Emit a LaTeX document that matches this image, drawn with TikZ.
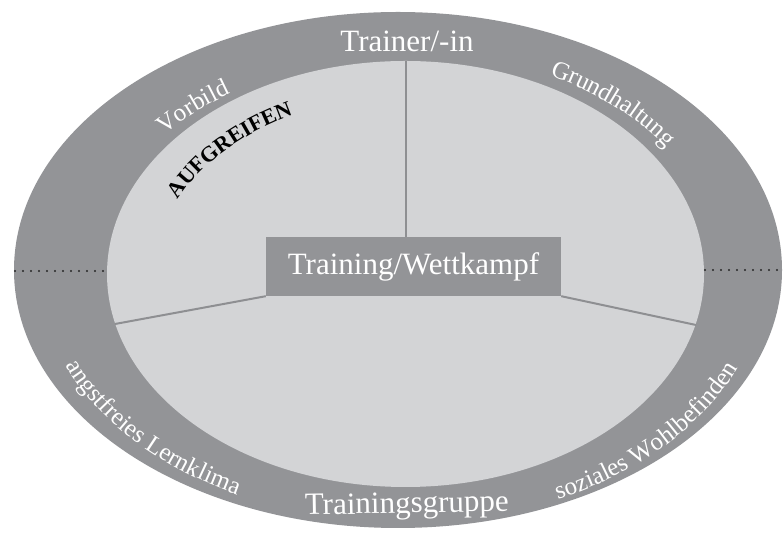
\documentclass[tikz,border=0pt]{standalone}
\usepackage{fontspec}
\setmainfont{Liberation Serif}
\usetikzlibrary{decorations.text}
\definecolor{ringgray}{HTML}{939497}
\definecolor{innergray}{HTML}{D3D4D6}
\definecolor{linegray}{HTML}{8E8F92}
\newcommand\bigfont{\fontsize{31bp}{33bp}\selectfont}
\newcommand\ringfont{\fontsize{25bp}{27bp}\selectfont}
\newcommand\boldfont{\fontsize{22bp}{24bp}\selectfont\bfseries}
\tikzset{
  divider/.style={draw=linegray, line width=2bp},
  dotline/.style={line width=2.2bp, line cap=round, dash pattern=on 0bp off 8bp, black!85},
  bigtext/.style={text=white, font=\bigfont, inner sep=0pt},
  ringtext/.style={decorate, decoration={text along path, text align=center, text color=white, text={|\ringfont|#1}}},
  boldtext/.style={decorate, decoration={text along path, text align=center, text color=black, text={|\boldfont|#1}}}
}
\begin{document}
\begin{tikzpicture}[x=1bp,y=1bp]
\useasboundingbox (0,0) rectangle (783,533);
% outer ring and inner area
\fill[ringgray] (398,263) ellipse [x radius=384, y radius=258];
\fill[innergray] (405.5,259) ellipse [x radius=298.5, y radius=213];
% anchor points on the inner edge
\coordinate (innerTop) at (405.5,472);
\coordinate (innerL) at (115,209);
\coordinate (innerR) at (696,208);
% centre box
\node[fill=ringgray, minimum width=295bp, minimum height=59bp, inner sep=0pt, bigtext] (tw) at (413.5,266.5) {Training/Wettkampf};
% dividers
\draw[divider] (tw.north -| innerTop) -- (innerTop);
\draw[divider] (tw.south west) -- (innerL);
\draw[divider] (tw.south east) -- (innerR);
% dotted lines
\coordinate (dl1) at (15,262);
\coordinate (dl2) at (105,262);
\coordinate (dr1) at (705,263);
\coordinate (dr2) at (783,263);
\draw[dotline] (dl1) -- (dl2);
\draw[dotline] (dr1) -- (dr2);
% straight labels
\node[bigtext, anchor=base] (trainer) at (407,481) {Trainer/-in};
\node[bigtext, anchor=base, rotate=1] (gruppe) at (407,20) {Trainingsgruppe};
% curved labels
\path[ringtext={Vorbild}] ([shift={(401.5,261)}]164:310 and 214) arc[start angle=164, end angle=104, x radius=310, y radius=214];
\path[ringtext={Grundhaltung}] ([shift={(401.5,261)}]78:320 and 222) arc[start angle=78, end angle=14, x radius=320, y radius=222];
\path[ringtext={angstfreies Lernklima}] ([shift={(401.5,261)}]183:362 and 250) arc[start angle=183, end angle=257, x radius=362, y radius=250];
\path[ringtext={soziales Wohlbefinden}] ([shift={(401.5,261)}]282:364 and 252) arc[start angle=282, end angle=356, x radius=364, y radius=252];
\path[boldtext={AUFGREIFEN}] ([shift={(405.5,259)}]164:250 and 178) arc[start angle=164, end angle=110, x radius=250, y radius=178];
\end{tikzpicture}
\end{document}
